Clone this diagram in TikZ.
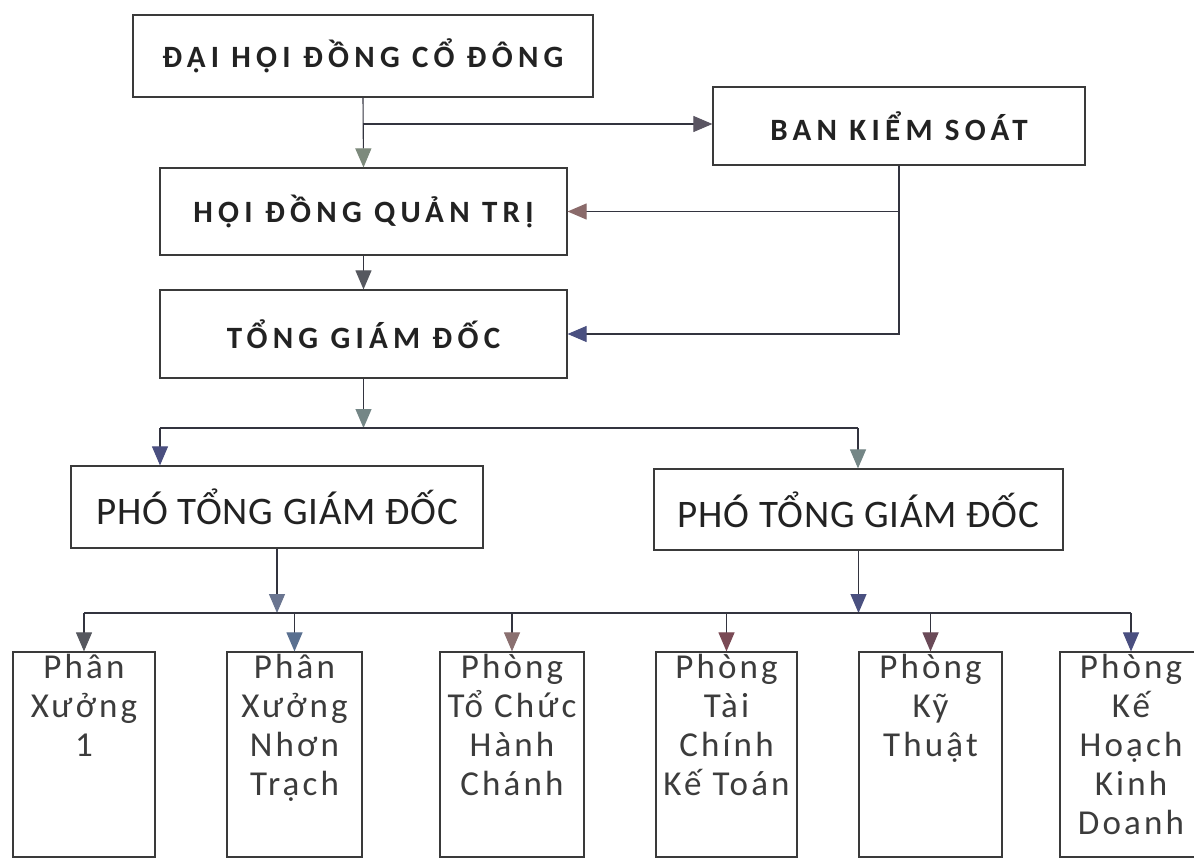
\documentclass[tikz,border=0pt]{standalone}
\usepackage{fontspec}
\setmainfont{Carlito}
\newfontfamily\topfont{Carlito}[LetterSpace=17]
\newfontfamily\midfont{Carlito}[LetterSpace=2]
\newfontfamily\botfont{Carlito}[LetterSpace=9]
\usetikzlibrary{arrows.meta}
\definecolor{linec}{HTML}{33343F}
\definecolor{boxc}{HTML}{3A3A3A}
\definecolor{txtc}{HTML}{222222}
\definecolor{botc}{HTML}{3C3C3C}
\definecolor{hTeal}{HTML}{7D8A7C}
\definecolor{hPurp}{HTML}{5A5562}
\definecolor{hBrown}{HTML}{8A6A6A}
\definecolor{hSlate}{HTML}{4A5080}
\definecolor{hGray}{HTML}{56585F}
\definecolor{hGteal}{HTML}{748686}
\definecolor{hBlue}{HTML}{4A4F80}
\definecolor{hGblue}{HTML}{6A7590}
\definecolor{hMaroon}{HTML}{7A4A55}
\definecolor{hPlum}{HTML}{6A4A58}
\definecolor{hLblue}{HTML}{5A7090}
\definecolor{hRose}{HTML}{8A7070}
\tikzset{
  x=1pt, y=1pt,
  topbox/.style={draw=boxc, line width=1.2pt, inner sep=0pt, font=\topfont\bfseries\fontsize{31}{33}\selectfont, text=txtc},
  midbox/.style={draw=boxc, line width=1.2pt, inner sep=0pt, font=\midfont\fontsize{39}{42}\selectfont, text=txtc},
  botbox/.style={draw=boxc, line width=1.2pt, inner sep=0pt, font=\botfont\fontsize{35}{39}\selectfont, text=botc},
  conn/.style={draw=linec, line width=1.1pt},
  arr/.style={conn, -{Triangle[length=19pt,width=16pt,fill=#1,color=#1]}},
}
\newcommand{\btext}[2]{\parbox[t][205pt][t]{#1}{\centering\vspace*{2pt}#2}}
\begin{document}
\begin{tikzpicture}
\clip (0,0) rectangle (1194,-859);
\fill[white] (0,0) rectangle (1194,-859);

% top level boxes
\node[topbox, minimum width=460pt, minimum height=82pt] (A) at (363,-56) {ĐẠI HỘI ĐỒNG CỔ ĐÔNG};
\node[topbox, minimum width=372pt, minimum height=78pt] (B) at (899,-126) {BAN KIỂM SOÁT};
\node[topbox, minimum width=407pt, minimum height=87pt] (C) at (363.5,-211.5) {HỘI ĐỒNG QUẢN TRỊ};
\node[topbox, minimum width=407pt, minimum height=88pt] (D) at (363.5,-334) {TỔNG GIÁM ĐỐC};
\node[midbox, minimum width=412pt, minimum height=82pt] (E) at (277,-507) {PHÓ TỔNG GIÁM ĐỐC};
\node[midbox, minimum width=409pt, minimum height=81pt] (F) at (858.5,-509.5) {PHÓ TỔNG GIÁM ĐỐC};

% bottom boxes
\node[botbox] (G1) at (84,-754.5) {\btext{142pt}{Phân\\Xưởng\\1}};
\node[botbox] (G2) at (294.5,-754.5) {\btext{135pt}{Phân\\Xưởng\\Nhơn\\Trạch}};
\node[botbox] (G3) at (512,-754.5) {\btext{144pt}{Phòng\\Tổ Chức\\Hành\\Chánh}};
\node[botbox] (G4) at (726.5,-754.5) {\btext{141pt}{Phòng\\Tài\\Chính\\Kế Toán}};
\node[botbox] (G5) at (930.5,-754.5) {\btext{143pt}{Phòng\\Kỹ\\Thuật}};
\node[botbox] (G6) at (1131,-754.5) {\btext{142pt}{Phòng\\Kế\\Hoạch\\Kinh\\Doanh}};

% junction coordinates
\coordinate (j1) at (363,-124);
\coordinate (j2) at (363.5,-428);
\coordinate (e1) at (160,-428);
\coordinate (f1) at (858,-428);
\coordinate (b1) at (84,-613);
\coordinate (b2) at (1131,-613);

% connectors
\draw[arr=hTeal] (A.south) -- (C.north);
\draw[arr=hPurp] (j1) -- (j1 -| B.west);
\draw[arr=hBrown] (B.south |- C.east) -- (C.east);
\draw[arr=hSlate] (B.south) |- (D.east);
\draw[arr=hGray] (C.south) -- (D.north);
\draw[arr=hGteal] (D.south) -- (j2);
\draw[conn] (e1) -- (f1);
\draw[arr=hBlue] (e1) -- (e1 |- E.north);
\draw[arr=hGteal] (f1) -- (f1 |- F.north);
\draw[arr=hGblue] (E.south) -- (E.south |- b1);
\draw[arr=hSlate] (F.south) -- (F.south |- b1);
\draw[conn] (b1) -- (b2);
\draw[arr=hGray] (b1) -- (G1.north);
\draw[arr=hLblue] (G2.north |- b1) -- (G2.north);
\draw[arr=hRose] (G3.north |- b1) -- (G3.north);
\draw[arr=hMaroon] (G4.north |- b1) -- (G4.north);
\draw[arr=hPlum] (G5.north |- b1) -- (G5.north);
\draw[arr=hBlue] (b2) -- (G6.north);
\end{tikzpicture}
\end{document}
